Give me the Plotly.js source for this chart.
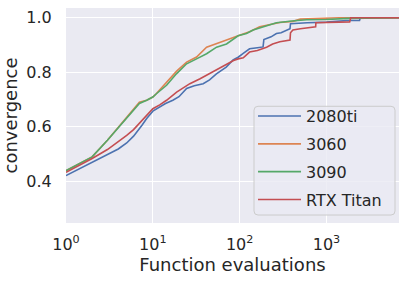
<!DOCTYPE html>
<html>
<head>
<meta charset="utf-8">
<script src="https://cdn.plot.ly/plotly-3.0.1.min.js"></script>
<style>html,body{margin:0;padding:0;background:#fff;}#chart{width:406px;height:283px;}</style>
</head>
<body>
<div id="chart"></div>
<script>
// Series names
const seriesNames = ['2080ti', '3060', '3090', 'RTX Titan'];
const seriesColors = ['#4C72B0', '#DD8452', '#55A868', '#C44E52'];

// 2080ti
const x2080ti = [1, 2, 3, 4, 5, 6, 7.5, 8.5, 10, 12, 14, 17, 20, 24.5, 30, 38, 45, 54, 70, 84, 96, 110, 130, 160, 186, 190, 230, 265, 300, 380, 385, 600, 1000, 1700, 2400, 2450, 6840];
const y2080ti = [0.42, 0.468, 0.499, 0.518, 0.54, 0.565, 0.605, 0.63, 0.657, 0.672, 0.685, 0.697, 0.71, 0.74, 0.75, 0.758, 0.772, 0.794, 0.819, 0.845, 0.855, 0.869, 0.886, 0.89, 0.893, 0.92, 0.93, 0.942, 0.945, 0.96, 0.978, 0.982, 0.984, 0.99, 0.99, 1.0, 1.0];

// 3060
const x3060 = [1, 2, 3, 4, 5, 6, 7, 8.5, 10, 11, 14.4, 18.8, 24.5, 31.9, 41.6, 54.2, 70.6, 96, 130, 170, 290, 410, 500, 1400, 6840];
const y3060 = [0.438, 0.489, 0.55, 0.597, 0.632, 0.662, 0.69, 0.697, 0.709, 0.722, 0.764, 0.804, 0.837, 0.856, 0.892, 0.904, 0.918, 0.934, 0.949, 0.967, 0.983, 0.987, 0.995, 1.0, 1.0];

// 3090
const x3090 = [1, 2, 3, 4, 5, 6, 7, 8.5, 10, 11, 14.4, 18.8, 24.5, 31.9, 41.6, 54.2, 70.6, 96, 120, 143, 186, 265, 400, 590, 1000, 1830, 6840];
const y3090 = [0.438, 0.489, 0.55, 0.595, 0.63, 0.66, 0.685, 0.697, 0.709, 0.721, 0.752, 0.795, 0.831, 0.849, 0.868, 0.892, 0.904, 0.934, 0.942, 0.955, 0.967, 0.982, 0.988, 0.993, 0.994, 0.998, 1.0];

// RTX Titan
const xTitan = [1, 2, 3, 4, 5, 6, 7.5, 10, 12, 14.4, 18.8, 22, 26.7, 35, 42, 50, 60, 71, 85, 96, 110, 130, 160, 204, 240, 290, 380, 385, 410, 500, 700, 750, 755, 1850, 1900, 6840];
const yTitan = [0.432, 0.483, 0.516, 0.544, 0.568, 0.589, 0.623, 0.666, 0.68, 0.697, 0.727, 0.74, 0.758, 0.776, 0.79, 0.804, 0.815, 0.831, 0.843, 0.849, 0.853, 0.874, 0.88, 0.892, 0.904, 0.912, 0.918, 0.945, 0.955, 0.96, 0.967, 0.967, 0.982, 0.985, 1.0, 1.0];

// Tick labels
const xTickVals = [1, 10, 100, 1000];
const xTickText = ['10<sup>0</sup>', '10<sup>1</sup>', '10<sup>2</sup>', '10<sup>3</sup>'];
const yTickVals = [0.4, 0.6, 0.8, 1.0];
const yTickText = ['0.4', '0.6', '0.8', '1.0'];

const xs = [x2080ti, x3060, x3090, xTitan];
const ys = [y2080ti, y3060, y3090, yTitan];

const traces = seriesNames.map((n, i) => ({
  type: 'scatter', mode: 'lines', name: n, legendgroup: 'g' + i,
  x: xs[i], y: ys[i],
  line: {color: seriesColors[i], width: 1.6}
}));

// legend frame (rounded), in paper coordinates
const L = 0.5646, R = 0.988, B = 0.0371, T = 0.5429, rx = 0.012, ry = 0.0186;
const framePath = `M ${L+rx},${B} L ${R-rx},${B} Q ${R},${B} ${R},${B+ry} L ${R},${T-ry} Q ${R},${T} ${R-rx},${T} L ${L+rx},${T} Q ${L},${T} ${L},${T-ry} L ${L},${B+ry} Q ${L},${B} ${L+rx},${B} Z`;

const layout = {
  width: 406, height: 283,
  margin: {l: 66, r: 7, t: 8, b: 60},
  paper_bgcolor: '#ffffff', plot_bgcolor: '#EAEAF2',
  font: {family: 'DejaVu Sans', size: 16, color: '#262626'},
  showlegend: true,
  xaxis: {
    type: 'log', range: [0, Math.log10(6840)],
    tickvals: xTickVals, ticktext: xTickText,
    gridcolor: '#ffffff', gridwidth: 1, zeroline: false, showline: false,
    ticks: 'outside', ticklen: 0, ticklabelstandoff: 7,
    tickfont: {size: 16},
    title: {text: 'Function evaluations', font: {size: 18}, standoff: 4}
  },
  yaxis: {
    range: [0.246, 1.036],
    tickvals: yTickVals, ticktext: yTickText,
    gridcolor: '#ffffff', gridwidth: 1, zeroline: false, showline: false,
    ticks: 'outside', ticklen: 0, ticklabelstandoff: 10,
    tickfont: {size: 16},
    title: {text: 'convergence', font: {size: 18}, standoff: 4}
  },
  shapes: [{
    type: 'path', xref: 'paper', yref: 'paper', path: framePath,
    fillcolor: 'rgba(234,234,242,0.8)', line: {color: '#CCCCCC', width: 1}, layer: 'above'
  }],
  legend: {
    x: 0.5616, xanchor: 'left', y: 0.576, yanchor: 'top',
    bgcolor: 'rgba(0,0,0,0)', borderwidth: 0,
    traceorder: 'grouped', tracegroupgap: 4, itemwidth: 43,
    font: {size: 16}
  }
};

Plotly.newPlot('chart', traces, layout, {displayModeBar: false, staticPlot: true});
</script>
</body>
</html>
